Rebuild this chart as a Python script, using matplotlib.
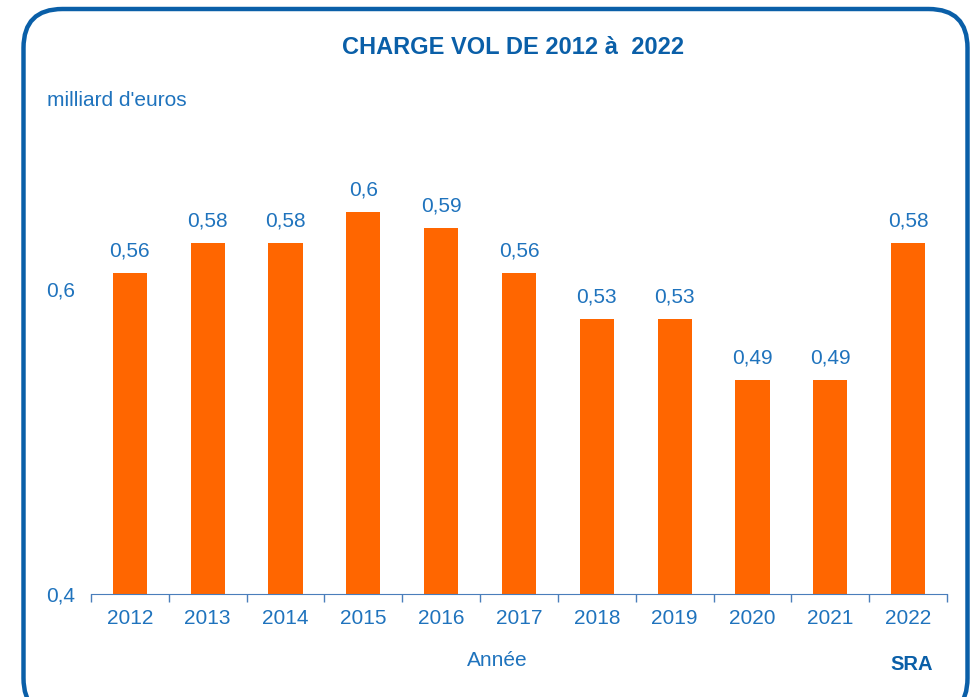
import numpy as np, matplotlib; matplotlib.use("Agg")
import matplotlib.pyplot as plt
from matplotlib.patches import FancyBboxPatch

years=["2012","2013","2014","2015","2016","2017","2018","2019","2020","2021","2022"]
vals=[0.56,0.58,0.58,0.60,0.59,0.56,0.53,0.53,0.49,0.49,0.58]
val_labels=["0,56","0,58","0,58","0,6","0,59","0,56","0,53","0,53","0,49","0,49","0,58"]
ytick_vals=[0.35,0.55]
ytick_labels=["0,4","0,6"]

plt.rcParams['font.family']=['Liberation Sans','DejaVu Sans']
W,H=972,697
fig=plt.figure(figsize=(W/100,H/100),dpi=100)
# rounded blue frame
fig.patches.append(FancyBboxPatch((23.5/W,-20/H),944/W,(H-9+20)/H,boxstyle="round,pad=0,rounding_size=0.04",
    transform=fig.transFigure,fc='none',ec='#0A5FA8',lw=3.2,mutation_aspect=W/H))
ax=fig.add_axes([91/W,(H-594)/H,856/W,(594-136)/H])
x=np.arange(len(years))
ax.bar(x,np.array(vals)-0.35,bottom=0.35,width=0.44,color='#FF6600',zorder=2)
ax.set_xlim(-0.5,len(years)-0.5);ax.set_ylim(0.35,0.65)
txt='#1F73BD'
for xi,v,l in zip(x,vals,val_labels):
    ax.annotate(l,(xi,v),xytext=(0,9),textcoords='offset points',ha='center',va='bottom',fontsize=15,color=txt)
ax.set_xticks(x);ax.set_xticklabels(years,fontsize=15,color=txt)
ax.set_xticks(np.arange(-0.5,len(years)),minor=True)
ax.tick_params(axis='x',which='major',length=0,pad=11)
ax.tick_params(axis='x',which='minor',length=6,color='#4A7EBB',width=1)
ax.set_yticks(ytick_vals);ax.set_yticklabels(ytick_labels,fontsize=15,color=txt)
ax.tick_params(axis='y',length=0,pad=11.5)
for s in ['top','right','left']:ax.spines[s].set_visible(False)
ax.spines['bottom'].set_color('#4A7EBB');ax.spines['bottom'].set_zorder(3)
fig.text(513/W,1-47/H,"CHARGE VOL DE 2012 à  2022",ha='center',va='center',fontsize=17,fontweight='bold',color='#0A5FA8')
fig.text(47/W,1-100/H,"milliard d'euros",ha='left',va='center',fontsize=15,color=txt)
fig.text(497/W,1-660/H,"Année",ha='center',va='center',fontsize=15,color=txt)
fig.text(933/W,1-665/H,"SRA",ha='right',va='center',fontsize=14.5,fontweight='bold',color='#0A5FA8')
plt.savefig("out.png",dpi=100);plt.close()
